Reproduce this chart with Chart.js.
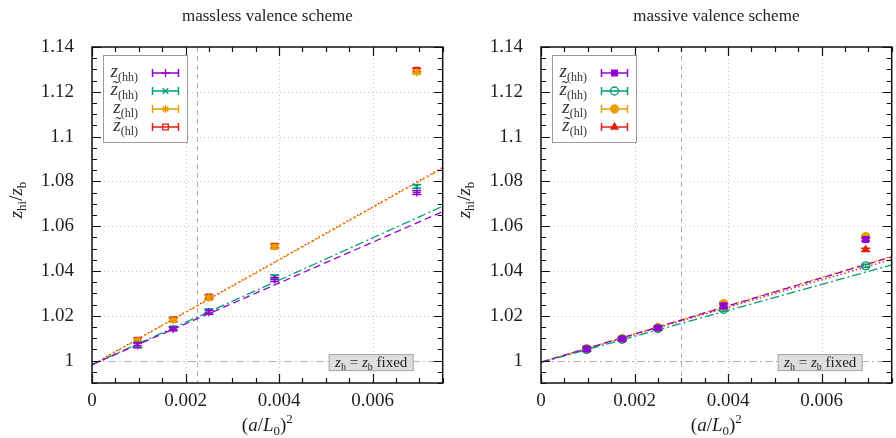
<!DOCTYPE html>
<html>
<head>
<meta charset="utf-8">
<script src="https://cdn.jsdelivr.net/npm/chart.js@4/dist/chart.umd.min.js"></script>
<style>
  html, body { margin: 0; padding: 0; background: #fff; }
  #wrap { position: relative; width: 896px; height: 438px; overflow: hidden; }
  canvas { position: absolute; top: 0; }
</style>
</head>
<body>
<div id="wrap">
  <canvas id="massless" width="448" height="438" style="left:0"></canvas>
  <canvas id="massive" width="449" height="438" style="left:448px"></canvas>
</div>
<script>
// (a/L0)^2 for the five lattices
const xVals = [0.000977, 0.001736, 0.0025, 0.003906, 0.006944];
const xTicks = [0, 0.002, 0.004, 0.006];
const yTicks = [1, 1.02, 1.04, 1.06, 1.08, 1.1, 1.12, 1.14];
const fitX = [0, 0.0075];

const seriesLabels = [
  { sub: '(hh)', tilde: false },
  { sub: '(hh)', tilde: true },
  { sub: '(hl)', tilde: false },
  { sub: '(hl)', tilde: true }
];
const colors = ['#9400d3', '#009e73', '#e69f00', '#e51e10'];

// massless valence scheme
const mlZhh  = [1.0068, 1.0141, 1.0216, 1.0362, 1.0750];
const mlZthh = [1.0071, 1.0144, 1.0221, 1.0373, 1.0777];
const mlZhl  = [1.0088, 1.0180, 1.0281, 1.0508, 1.1287];
const mlZthl = [1.0091, 1.0183, 1.0284, 1.0511, 1.1296];
const mlErr  = [0.0011, 0.0008, 0.0009, 0.0009, 0.0008];
const mlFitStart = [0.9982, 0.9982, 0.9980, 0.9982];
const mlFitEnd   = [1.0665, 1.0689, 1.0858, 1.0862];

// massive valence scheme
const mvZhh  = [1.0052, 1.0097, 1.0145, 1.0245, 1.0541];
const mvZthh = [1.0050, 1.0095, 1.0143, 1.0229, 1.0423];
const mvZhl  = [1.0053, 1.0098, 1.0147, 1.0254, 1.0553];
const mvZthl = [1.0052, 1.0097, 1.0146, 1.0240, 1.0495];
const mvErr  = [0.0009, 0.0006, 0.0007, 0.0009, 0.0007];
const mvFitStart = [0.9993, 0.9992, 0.9993, 0.9993];
const mvFitEnd   = [1.0463, 1.0427, 1.0466, 1.0452];

const SERIF = "'Liberation Serif', 'DejaVu Serif', serif";
const INK = '#1e1e1e';
const fitDash = [[7, 4], [9, 3, 2, 3], [3, 3], [1.5, 2.5]];

// draw a run of text pieces: [text, size, italic, dy]
function rich(ctx, parts, x, y, align) {
  let total = 0;
  const widths = parts.map(p => {
    ctx.font = (p[2] ? 'italic ' : '') + p[1] + 'px ' + SERIF;
    const w = ctx.measureText(p[0]).width;
    total += w;
    return w;
  });
  let cx = align === 'center' ? x - total / 2 : align === 'right' ? x - total : x;
  ctx.textAlign = 'left';
  ctx.textBaseline = 'alphabetic';
  parts.forEach((p, i) => {
    ctx.font = (p[2] ? 'italic ' : '') + p[1] + 'px ' + SERIF;
    ctx.fillText(p[0], cx, y + (p[3] || 0));
    if (p[4]) {
      ctx.font = p[1] + 'px ' + SERIF;
      ctx.textAlign = 'center';
      ctx.fillText('\u02dc', cx + widths[i] / 2 + 1.5, y - 1);
      ctx.textAlign = 'left';
    }
    cx += widths[i];
  });
}

function marker(ctx, style, fill, color, x, y) {
  ctx.strokeStyle = color;
  ctx.fillStyle = fill ? color : 'rgba(0,0,0,0)';
  ctx.lineWidth = 1.3;
  ctx.setLineDash([]);
  Chart.helpers.drawPoint(ctx, { pointStyle: style, radius: 4, rotation: 0, borderWidth: 1.3 }, x, y);
}

const decor = {
  id: 'decor',
  beforeDatasetsDraw(chart, args, o) {
    const { ctx, chartArea: a, scales: { x, y } } = chart;
    ctx.save();
    ctx.lineWidth = 1;
    ctx.strokeStyle = '#c4c4c4';
    ctx.setLineDash([1, 3]);
    xTicks.forEach(v => {
      if (v <= x.min || v >= x.max) return;
      const px = Math.round(x.getPixelForValue(v)) + 0.5;
      ctx.beginPath(); ctx.moveTo(px, a.top); ctx.lineTo(px, a.bottom); ctx.stroke();
    });
    yTicks.forEach(v => {
      if (v <= 1 || v >= y.max) return;
      const py = Math.round(y.getPixelForValue(v)) + 0.5;
      ctx.beginPath(); ctx.moveTo(a.left, py); ctx.lineTo(a.right, py); ctx.stroke();
    });
    ctx.strokeStyle = '#b0b0b0';
    ctx.setLineDash([5, 4]);
    const vx = Math.round(x.getPixelForValue(o.vline)) + 0.5;
    ctx.beginPath(); ctx.moveTo(vx, a.top); ctx.lineTo(vx, a.bottom); ctx.stroke();
    ctx.setLineDash([8, 3, 2, 3]);
    const hy = Math.round(y.getPixelForValue(1)) + 0.5;
    ctx.beginPath(); ctx.moveTo(a.left, hy); ctx.lineTo(a.right, hy); ctx.stroke();
    ctx.restore();
  },
  beforeDatasetDraw(chart, args) {
    const ds = chart.data.datasets[args.index];
    if (!ds.errors) return;
    const { ctx, scales: { y } } = chart;
    ctx.save();
    ctx.strokeStyle = ds.borderColor;
    ctx.lineWidth = 1.5;
    ctx.setLineDash([]);
    args.meta.data.forEach((el, i) => {
      const v = ds.data[i].y, e = ds.errors[i];
      const t = y.getPixelForValue(v + e), b = y.getPixelForValue(v - e);
      ctx.beginPath();
      ctx.moveTo(el.x, t); ctx.lineTo(el.x, b);
      ctx.moveTo(el.x - 4.5, t); ctx.lineTo(el.x + 4.5, t);
      ctx.moveTo(el.x - 4.5, b); ctx.lineTo(el.x + 4.5, b);
      ctx.stroke();
    });
    ctx.restore();
  },
  afterDatasetsDraw(chart, args, o) {
    const { ctx, chartArea: a, scales: { x, y } } = chart;
    ctx.save();
    ctx.setLineDash([]);
    // inward ticks on all four sides
    ctx.strokeStyle = '#111';
    ctx.lineWidth = 1.2;
    ctx.beginPath();
    for (let v = x.min; v <= x.max + 1e-9; v += 0.0005) {
      const major = Math.abs(v / 0.002 - Math.round(v / 0.002)) < 1e-6;
      const len = major ? 9 : 5;
      const px = Math.round(x.getPixelForValue(v)) + 0.5;
      ctx.moveTo(px, a.bottom); ctx.lineTo(px, a.bottom - len);
      ctx.moveTo(px, a.top); ctx.lineTo(px, a.top + len);
    }
    for (let v = y.min; v <= y.max + 1e-9; v += 0.005) {
      const major = Math.abs((v - 1) / 0.02 - Math.round((v - 1) / 0.02)) < 1e-6;
      const len = major ? 9 : 5;
      const py = Math.round(y.getPixelForValue(v)) + 0.5;
      ctx.moveTo(a.left, py); ctx.lineTo(a.left + len, py);
      ctx.moveTo(a.right, py); ctx.lineTo(a.right - len, py);
    }
    ctx.stroke();
    ctx.lineWidth = 1.5;
    ctx.strokeRect(a.left, a.top, a.right - a.left, a.bottom - a.top);

    // "z_h = z_b fixed" label
    const by = y.getPixelForValue(1) + 2;
    const bx = a.right - 29 - 85;
    ctx.fillStyle = '#dedede';
    ctx.fillRect(bx, by - 8.5, 85, 17);
    ctx.strokeStyle = '#a8a8a8';
    ctx.lineWidth = 1;
    ctx.strokeRect(bx + 0.5, by - 8, 84, 16);
    ctx.fillStyle = INK;
    rich(ctx, [['z', 15, true], ['h', 10, false, 3], [' = ', 15], ['z', 15, true], ['b', 10, false, 3], [' fixed', 15]],
      bx + 42.5, by + 4.5, 'center');

    // legend
    const lx = a.left + 11, ly = a.top + 8;
    ctx.fillStyle = '#fff';
    ctx.fillRect(lx, ly, 84, 87);
    ctx.strokeStyle = '#9a9a9a';
    ctx.lineWidth = 1;
    ctx.strokeRect(lx + 0.5, ly + 0.5, 84, 87);
    seriesLabels.forEach((s, i) => {
      const cy = ly + 18 + i * 18;
      ctx.fillStyle = '#333';
      rich(ctx, [['z', 19, true, 0, s.tilde], [s.sub, 12, false, 4]], lx + 35, cy + 4, 'right');
      const x0 = a.left + 60.5, x1 = a.left + 86.5;
      ctx.strokeStyle = colors[i];
      ctx.lineWidth = 1.5;
      ctx.beginPath();
      ctx.moveTo(x0, cy); ctx.lineTo(x1, cy);
      ctx.moveTo(x0, cy - 4); ctx.lineTo(x0, cy + 4);
      ctx.moveTo(x1, cy - 4); ctx.lineTo(x1, cy + 4);
      ctx.stroke();
      marker(ctx, o.styles[i], o.fills[i], colors[i], (x0 + x1) / 2, cy);
    });

    // titles
    ctx.fillStyle = INK;
    const mid = (a.left + a.right) / 2;
    ctx.font = '17px ' + SERIF;
    ctx.textAlign = 'center';
    ctx.textBaseline = 'middle';
    ctx.fillText(o.title, mid, 17);
    rich(ctx, [['(', 19], ['a', 19, true], ['/', 19], ['L', 19, true], ['0', 13, false, 4], [')', 19], ['2', 13, false, -8]],
      mid, 431, 'center');
    ctx.translate(22, 200);
    ctx.rotate(-Math.PI / 2);
    rich(ctx, [['z', 19, true], ['hi', 13, false, 4], ['/', 19], ['z', 19, true], ['b', 13, false, 4]], 0, 0, 'center');
    ctx.restore();
  }
};

function build(id, series, errors, fitStart, fitEnd, styles, fills, title, vline, yWidth) {
  const datasets = [];
  series.forEach((vals, i) => {
    datasets.push({
      data: xVals.map((x, j) => ({ x: x, y: vals[j] })),
      errors: errors,
      showLine: false,
      pointStyle: styles[i],
      pointRadius: 4,
      pointBorderWidth: 1.3,
      borderColor: colors[i],
      backgroundColor: fills[i] ? colors[i] : 'rgba(0,0,0,0)',
      order: 1
    });
  });
  fitStart.forEach((v, i) => {
    datasets.push({
      data: [{ x: fitX[0], y: v }, { x: fitX[1], y: fitEnd[i] }],
      showLine: true,
      pointRadius: 0,
      borderColor: colors[i],
      borderWidth: 1.3,
      borderDash: fitDash[i],
      order: 2
    });
  });

  new Chart(document.getElementById(id), {
    type: 'scatter',
    data: { datasets: datasets },
    options: {
      responsive: false,
      devicePixelRatio: 1,
      animation: false,
      layout: { padding: { top: 47, right: 0, bottom: 0, left: 0 } },
      plugins: {
        legend: { display: false },
        tooltip: { enabled: false },
        decor: { title: title, vline: vline, styles: styles, fills: fills }
      },
      scales: {
        x: {
          type: 'linear', min: 0, max: 0.0075,
          grid: { display: false, drawTicks: false },
          border: { display: false },
          afterBuildTicks: s => { s.ticks = xTicks.map(v => ({ value: v })); },
          afterFit: s => { s.height = 55; },
          ticks: {
            padding: 7, color: INK, maxRotation: 0,
            font: { family: SERIF, size: 19 },
            callback: v => v === 0 ? '0' : v.toFixed(3)
          }
        },
        y: {
          type: 'linear', min: 0.99, max: 1.14,
          grid: { display: false, drawTicks: false },
          border: { display: false },
          afterBuildTicks: s => { s.ticks = yTicks.map(v => ({ value: v })); },
          afterFit: s => { s.width = yWidth; },
          ticks: {
            padding: 18, color: INK,
            font: { family: SERIF, size: 19 },
            callback: v => String(+v.toFixed(2))
          }
        }
      }
    },
    plugins: [decor]
  });
}

build('massless', [mlZhh, mlZthh, mlZhl, mlZthl], mlErr, mlFitStart, mlFitEnd,
  ['cross', 'crossRot', 'star', 'rect'], [false, false, false, false],
  'massless valence scheme', 0.00225, 92);
build('massive', [mvZhh, mvZthh, mvZhl, mvZthl], mvErr, mvFitStart, mvFitEnd,
  ['rect', 'circle', 'circle', 'triangle'], [true, false, true, true],
  'massive valence scheme', 0.003, 93);
</script>
</body>
</html>
